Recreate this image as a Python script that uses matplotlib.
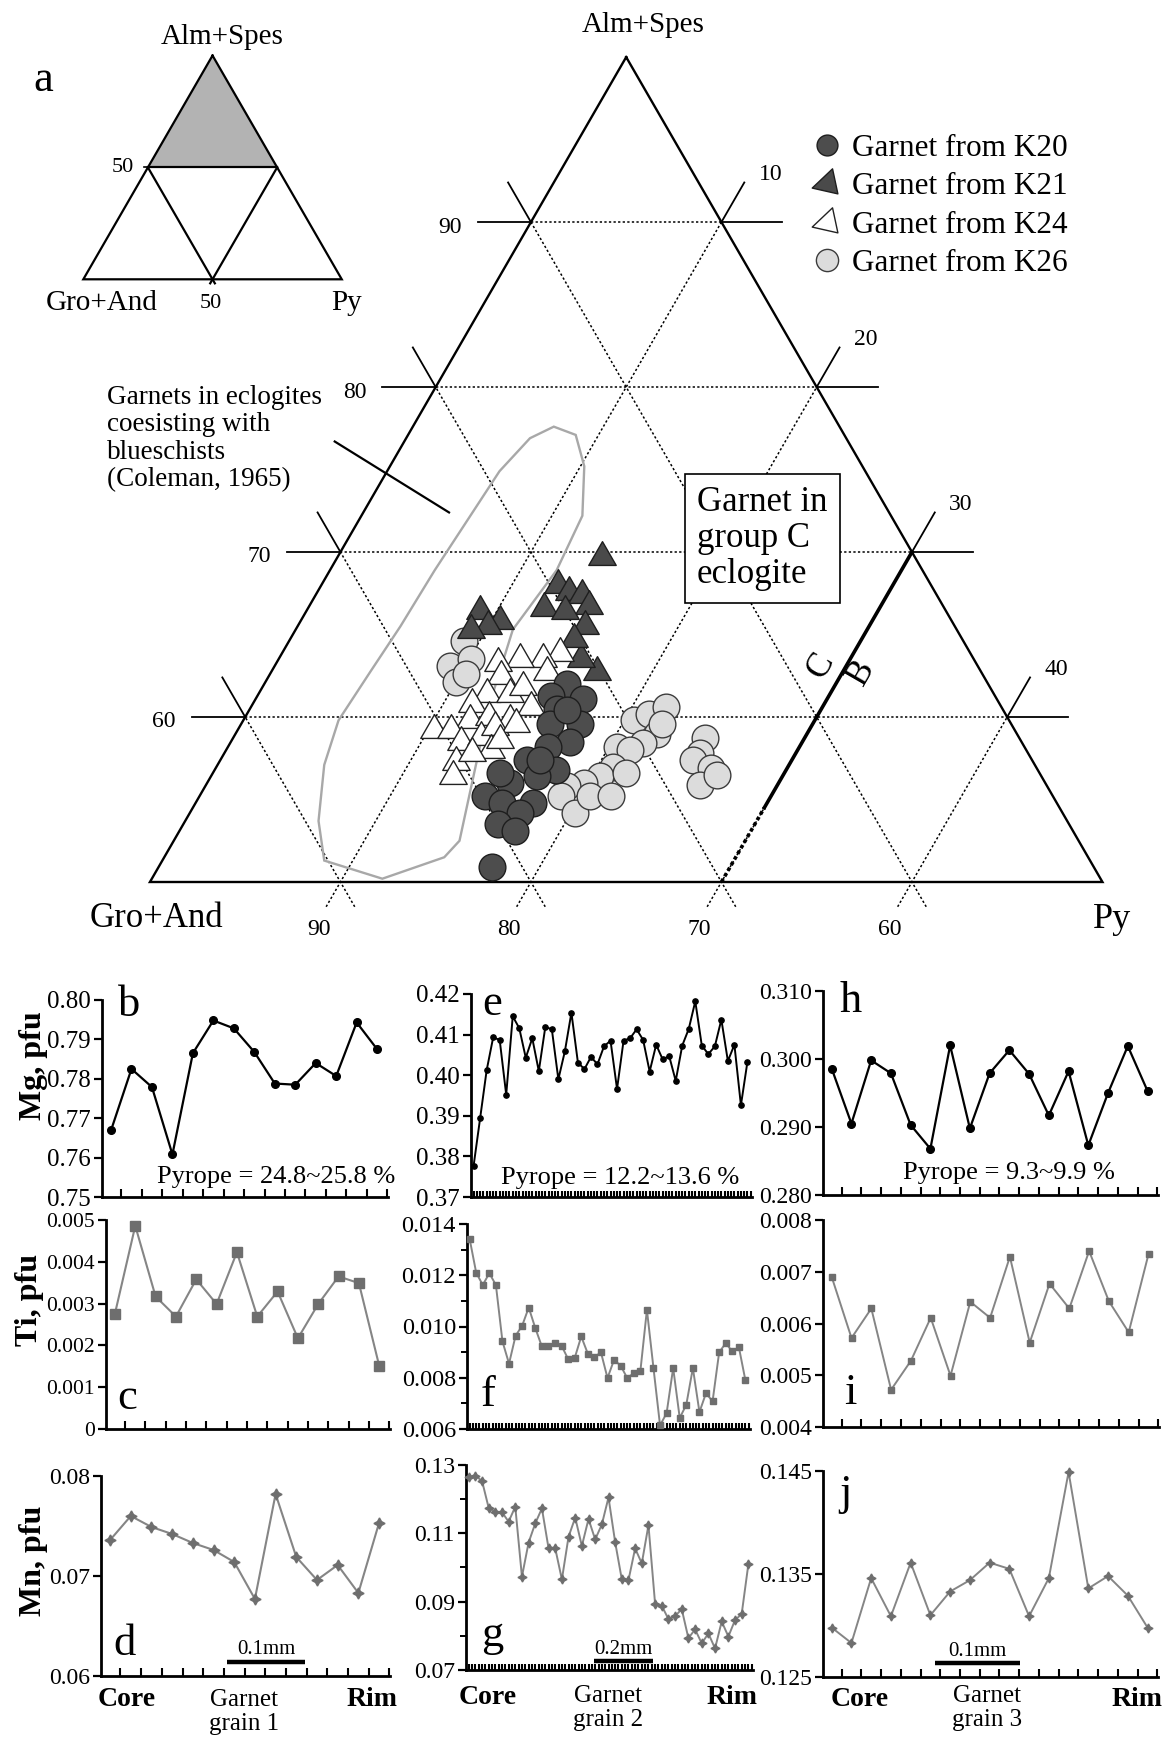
import numpy as np
import matplotlib.pyplot as plt
from matplotlib.lines import Line2D
from matplotlib.path import Path
from matplotlib.ticker import FixedLocator, FuncFormatter

plt.rcParams['font.family'] = ['Liberation Serif', 'DejaVu Serif']

W, H, DPI = 1173, 1739, 100
R3 = np.sqrt(3) / 2

# garnet end-member proportions, mol % (Alm+Spes, Py); Gro+And is the rest
k20_alm = [62.0, 61.3, 61.1, 60.5, 59.6, 59.6, 58.5, 58.2, 57.4, 56.8, 56.4,
           56.0, 55.2, 54.8, 54.8, 54.2, 53.5, 53.1, 50.9, 56.6, 60.4, 57.4]
k20_py = [15.9, 15.4, 17.2, 16.1, 17.8, 16.2, 17.8, 16.8, 16.1, 17.9, 17.1,
          15.9, 15.0, 16.1, 17.7, 17.3, 16.5, 17.6, 17.5, 15.1, 16.7, 16.8]

k21_alm = [69.7, 68.0, 67.6, 67.4, 66.7, 66.6, 66.4, 65.5, 66.4, 65.8, 65.5,
           65.3, 62.7, 63.5, 64.7]
k21_py = [13.9, 12.4, 13.2, 14.0, 14.7, 12.4, 13.6, 15.1, 9.1, 10.5, 10.0,
          9.2, 17.1, 15.9, 14.9]

k24_alm = [63.9, 63.5, 63.5, 63.3, 62.5, 61.4, 60.8, 61.4, 61.8, 60.6, 59.8,
           60.0, 59.8, 59.2, 59.2, 58.5, 58.8, 59.4, 59.6, 58.0, 57.3, 56.4,
           57.8, 58.6, 62.7]
k24_py = [14.6, 13.9, 12.7, 11.6, 12.2, 12.0, 11.5, 13.2, 13.7, 14.7, 11.9,
          12.8, 14.0, 10.3, 11.2, 12.1, 13.0, 13.4, 14.4, 13.9, 12.4, 12.7,
          13.0, 14.1, 14.5]

k26_alm = [64.6, 63.1, 63.5, 62.1, 62.6, 59.8, 60.2, 60.6, 59.0, 58.4, 58.2,
           58.0, 57.0, 56.4, 56.0, 55.8, 55.2, 54.2, 55.2, 55.2, 56.6, 59.6,
           58.7, 57.8, 57.4, 56.9, 55.9, 56.5]
k26_py = [9.2, 9.2, 10.1, 10.0, 10.3, 20.5, 21.1, 21.8, 22.1, 21.7, 20.4,
          21.2, 20.8, 20.4, 19.8, 19.0, 19.0, 20.2, 20.5, 21.6, 21.7, 22.1,
          24.8, 25.0, 24.8, 26.0, 25.9, 26.5]

# field of eclogites coexisting with blueschists (Coleman, 1965)
field_alm = [77.6, 77.1, 75.2, 72.2, 68.9, 65.3, 60.5, 52.5, 51.5, 50.2, 51.3,
             53.7, 57.1, 59.8, 62.8, 65.5, 68.9, 71.9, 74.9, 76.9, 77.6]
field_py = [7.4, 8.8, 10.2, 11.6, 11.9, 11.4, 12.5, 15.0, 14.7, 12.1, 8.5,
            7.0, 5.6, 5.0, 5.2, 5.4, 5.5, 5.7, 5.9, 6.5, 7.4]

grid_alm = [60, 70, 80, 90]
grid_py = [10, 20, 30, 40]
bc_py = 30  # group B / group C boundary

# core-to-rim profiles, cations pfu
mg_1 = [0.7669, 0.7825, 0.7779, 0.7608, 0.7865, 0.7948, 0.7928, 0.7868,
        0.7788, 0.7785, 0.7840, 0.7807, 0.7943, 0.7875]
mg_2 = [0.3777, 0.3894, 0.4012, 0.4093, 0.4087, 0.3952, 0.4145, 0.4116,
        0.4043, 0.4091, 0.4010, 0.4119, 0.4113, 0.3990, 0.4059, 0.4154,
        0.4031, 0.4015, 0.4045, 0.4027, 0.4071, 0.4085, 0.3966, 0.4085,
        0.4091, 0.4113, 0.4087, 0.4009, 0.4075, 0.4039, 0.4047, 0.3986,
        0.4073, 0.4114, 0.4182, 0.4073, 0.4052, 0.4071, 0.4137, 0.4035,
        0.4075, 0.3926, 0.4033]
mg_3 = [0.2986, 0.2905, 0.2998, 0.2979, 0.2903, 0.2868, 0.3020, 0.2898,
        0.2979, 0.3013, 0.2978, 0.2917, 0.2982, 0.2873, 0.2950, 0.3019,
        0.2953]

ti_1 = [0.00276, 0.00486, 0.00317, 0.00269, 0.00358, 0.00299, 0.00423,
        0.00269, 0.00329, 0.00217, 0.00299, 0.00365, 0.00349, 0.00151]
ti_2 = [0.01342, 0.01210, 0.01162, 0.01208, 0.01162, 0.00942, 0.00855,
        0.00964, 0.01003, 0.01074, 0.00994, 0.00922, 0.00922, 0.00935,
        0.00925, 0.00873, 0.00877, 0.00961, 0.00894, 0.00881, 0.00899,
        0.00799, 0.00870, 0.00847, 0.00799, 0.00818, 0.00825, 0.01065,
        0.00838, 0.00614, 0.00662, 0.00838, 0.00643, 0.00695, 0.00838,
        0.00666, 0.00740, 0.00708, 0.00899, 0.00935, 0.00903, 0.00920,
        0.00790]
ti_3 = [0.00690, 0.00572, 0.00629, 0.00472, 0.00528, 0.00611, 0.00499,
        0.00642, 0.00611, 0.00729, 0.00563, 0.00677, 0.00629, 0.00740,
        0.00643, 0.00583, 0.00734]

mn_1 = [0.0736, 0.0760, 0.0749, 0.0742, 0.0733, 0.0726, 0.0714, 0.0677,
        0.0782, 0.0719, 0.0696, 0.0711, 0.0683, 0.0753]
mn_2 = [0.1264, 0.1268, 0.1254, 0.1175, 0.1163, 0.1162, 0.1134, 0.1178,
        0.0973, 0.1073, 0.1129, 0.1173, 0.1056, 0.1056, 0.0965, 0.1090,
        0.1146, 0.1063, 0.1142, 0.1082, 0.1126, 0.1205, 0.1074, 0.0965,
        0.0963, 0.1056, 0.1012, 0.1124, 0.0893, 0.0888, 0.0849, 0.0858,
        0.0878, 0.0793, 0.0819, 0.0778, 0.0807, 0.0763, 0.0842, 0.0798,
        0.0846, 0.0864, 0.1009]
mn_3 = [0.1298, 0.1283, 0.1346, 0.1309, 0.1361, 0.1310, 0.1333, 0.1344,
        0.1361, 0.1355, 0.1309, 0.1346, 0.1449, 0.1336, 0.1348, 0.1329,
        0.1298]


def tern(alm, py):
    alm = np.asarray(alm, dtype=float)
    py = np.asarray(py, dtype=float)
    return py + alm / 2, alm * R3


def fx(px):
    return px / W


def fy(py):
    return 1 - py / H


fig = plt.figure(figsize=(W / DPI, H / DPI), dpi=DPI)


def add_box(x0, y0, x1, y1):
    return fig.add_axes([fx(x0), fy(y1), (x1 - x0) / W, (y1 - y0) / H])


# ---- main ternary (upper half: Alm+Spes >= 50) ----
ax = add_box(0, 40, W, 960)
ax.set_xlim(17.129, 78.704)
ax.set_ylim(39.207, 87.5)
ax.axis('off')

ax.plot(*tern([100, 50, 50, 100], [0, 0, 50, 0]), color='k', lw=1.7,
        solid_joinstyle='miter', zorder=2)

dots = (0, (1.5, 1.5))
for a in grid_alm:
    ax.plot(*tern([a, a], [0, 100 - a]), color='k', lw=1.1, ls=dots, zorder=1)
    ax.plot(*tern([a, a], [-2.8, 0]), color='k', lw=1.3)
    ax.plot(*tern([a, a], [100 - a, 103.2 - a]), color='k', lw=1.3)
    ax.text(*tern(a - 0.3, -3.5), str(a), fontsize=17, ha='right', va='center')
for p in grid_py:
    # constant Py
    ax.plot(*tern([48.5, 100 - p], [p, p]), color='k', lw=1.1, ls=dots, zorder=1)
    ax.plot(*tern([100 - p, 102.4 - p], [p, p]), color='k', lw=1.3)
    ax.text(*tern(102.9 - p, p + 0.5), str(p), fontsize=17, ha='left', va='center')
    ax.text(*tern(47.1, p + 0.3), str(100 - p), fontsize=17, ha='center', va='center')
    # constant Gro+And
    g = p
    ax.plot(*tern([48.5, 100 - g], [51.5 - g, 0]), color='k', lw=1.1, ls=dots, zorder=1)
    ax.plot(*tern([100 - g, 102.4 - g], [0, -2.4]), color='k', lw=1.3)

ax.fill(*tern(field_alm, field_py), fc='none', ec='#a8a8a8', lw=1.7, zorder=2)
ax.plot(*tern([76.7, 72.4], [-3.65, 4.5]), color='k', lw=1.6)

ax.plot(*tern([54.5, 70], [bc_py, bc_py]), color='k', lw=2.6, zorder=2)
ax.plot(*tern([50, 54.5], [bc_py, bc_py]), color='k', lw=2.6, ls=(0, (1, 0.8)), zorder=2)
ax.text(*tern(63.1, 28.7), 'C', rotation=60, fontsize=25, ha='center', va='center')
ax.text(*tern(62.7, 31.0), 'B', rotation=60, fontsize=25, ha='center', va='center')

tri = Path([(0, 0.577), (-0.5, -0.289), (0.5, -0.289), (0, 0.577)], closed=True)
ax.scatter(*tern(k26_alm, k26_py), s=370, marker='o', fc='#dcdcdc',
           ec='#3c3c3c', lw=1.0, zorder=3)
ax.scatter(*tern(k21_alm, k21_py), s=520, marker=tri, fc='#4a4a4a',
           ec='#1e1e1e', lw=1.0, zorder=4)
ax.scatter(*tern(k24_alm, k24_py), s=520, marker=tri, fc='white',
           ec='#222222', lw=1.0, zorder=5)
ax.scatter(*tern(k20_alm, k20_py), s=370, marker='o', fc='#4d4d4d',
           ec='#1e1e1e', lw=1.0, zorder=6)

leg_tri = Path([(-1, -0.3), (0.33, 0.96), (0.68, -0.68), (-1, -0.3)], closed=True)
handles = [
    Line2D([], [], ls='none', marker='o', ms=15, mfc='#4d4d4d', mec='#1e1e1e'),
    Line2D([], [], ls='none', marker=leg_tri, ms=22, mfc='#4a4a4a', mec='#1e1e1e'),
    Line2D([], [], ls='none', marker=leg_tri, ms=22, mfc='white', mec='#222222'),
    Line2D([], [], ls='none', marker='o', ms=16, mfc='#dcdcdc', mec='#3c3c3c'),
]
labels = ['Garnet from K20', 'Garnet from K21', 'Garnet from K24', 'Garnet from K26']
ax.legend(handles, labels, loc='upper left', bbox_to_anchor=(fx(811), fy(134)),
          bbox_transform=fig.transFigure, frameon=False, fontsize=22.5,
          handlelength=1.0, handletextpad=0.3, labelspacing=0.3,
          borderpad=0, borderaxespad=0)

fig.text(fx(643), fy(25), 'Alm+Spes', fontsize=21, ha='center', va='center')
fig.text(fx(156), fy(918), 'Gro+And', fontsize=25, ha='center', va='center')
fig.text(fx(1112), fy(920), 'Py', fontsize=26, ha='center', va='center')
fig.text(fx(107), fy(385), 'Garnets in eclogites\ncoesisting with\nblueschists\n(Coleman, 1965)',
         fontsize=19.5, ha='left', va='top', linespacing=1.13)
fig.text(fx(697), fy(486), 'Garnet in\ngroup C\neclogite', fontsize=25, ha='left',
         va='top', linespacing=1.12,
         bbox=dict(boxstyle='square,pad=0.35', fc='white', ec='k', lw=1.2))

# ---- inset: full ternary with the plotted field shaded ----
ai = add_box(60, 20, 380, 320)
ai.set_xlim(-9.02, 114.8)
ai.set_ylim(-15.75, 100.35)
ai.axis('off')
ai.fill(*tern([100, 50, 50], [0, 0, 50]), color='#b3b3b3', lw=0)
ai.plot(*tern([100, 0, 0, 100], [0, 0, 100, 0]), color='k', lw=1.6,
        solid_joinstyle='miter')
ai.plot(*tern([50, 50], [0, 50]), color='k', lw=1.6)
ai.plot(*tern([50, -1.8], [0, 51.8]), color='k', lw=1.6)
ai.plot(*tern([50, -1.8], [50, 50]), color='k', lw=1.6)
ai.plot(*tern([50, 50], [-1.6, 0]), color='k', lw=1.2)
fig.text(fx(222), fy(37), 'Alm+Spes', fontsize=21, ha='center', va='center')
fig.text(fx(102), fy(303), 'Gro+And', fontsize=21, ha='center', va='center')
fig.text(fx(347), fy(303), 'Py', fontsize=21, ha='center', va='center')
fig.text(fx(123), fy(167), '50', fontsize=16, ha='center', va='center')
fig.text(fx(211), fy(304), '50', fontsize=16, ha='center', va='center')
fig.text(fx(43), fy(80), 'a', fontsize=32, ha='center', va='center')


# ---- profiles ----
def f2(v, pos):
    return f'{v:.2f}'


def f3(v, pos):
    return f'{v:.3f}'


def f3z(v, pos):
    return '0' if abs(v) < 1e-12 else f'{v:.3f}'


def profile(box, y, ylim, major, minor, fmt, style, letter, lpos, dense=False,
            labelsize=18):
    a = add_box(*box)
    n = len(y)
    a.plot(np.arange(n), y, clip_on=False, zorder=3, **style)
    if dense:
        a.set_xlim(-0.4, n - 0.3)
        a.set_xticks(np.arange(0, n - 0.2, 0.5))
    else:
        a.set_xlim(-0.44, n - 0.47)
        a.set_xticks(np.arange(0.5, n, 1.0))
    a.set_ylim(*ylim)
    a.yaxis.set_major_locator(FixedLocator(major))
    if minor is not None:
        a.yaxis.set_minor_locator(FixedLocator(minor))
    a.yaxis.set_major_formatter(FuncFormatter(fmt))
    for s in ('top', 'right'):
        a.spines[s].set_visible(False)
    for s in ('left', 'bottom'):
        a.spines[s].set_linewidth(2.0)
    a.tick_params(axis='y', which='major', direction='out', length=6, width=1.6,
                  labelsize=labelsize, pad=2)
    a.tick_params(axis='y', which='minor', direction='out', length=4, width=1.4)
    a.tick_params(axis='x', direction='in', length=4 if dense else 6, width=1.5,
                  labelbottom=False)
    a.patch.set_alpha(0)
    fig.text(fx(lpos[0]), fy(lpos[1]), letter, fontsize=32, ha='center', va='center')
    return a


mg = dict(color='k', lw=1.6, marker='o', ms=5.5, mfc='k', mec='k')
mg_d = dict(color='k', lw=1.4, marker='o', ms=3.8, mfc='k', mec='k')
ti = dict(color='#858585', lw=1.5, marker='s', ms=7, mfc='#6e6e6e', mec='#6e6e6e')
ti_d = dict(color='#858585', lw=1.4, marker='s', ms=4.2, mfc='#6e6e6e', mec='#6e6e6e')
mn = dict(color='#858585', lw=1.5, marker=(4, 1, 0), ms=8, mfc='#6e6e6e', mec='#6e6e6e')
mn_d = dict(color='#858585', lw=1.4, marker=(4, 1, 0), ms=6.5, mfc='#6e6e6e', mec='#6e6e6e')

profile((102, 1000, 388, 1197), mg_1, (0.75, 0.80), np.arange(0.75, 0.8001, 0.01),
        None, f2, mg, 'b', (129, 1005))
profile((471, 994, 752, 1197), mg_2, (0.37, 0.42), np.arange(0.37, 0.4201, 0.01),
        None, f2, mg_d, 'e', (492, 1004), dense=True)
profile((823, 991, 1158, 1195), mg_3, (0.28, 0.31), np.arange(0.28, 0.3101, 0.01),
        None, f3, mg, 'h', (851, 1001), labelsize=17)

profile((106, 1220, 390, 1429), ti_1, (0, 0.005), np.arange(0, 0.00501, 0.001),
        None, f3z, ti, 'c', (127, 1398), labelsize=15.5)
profile((467, 1224, 750, 1429), ti_2, (0.006, 0.014), np.arange(0.006, 0.01401, 0.002),
        np.arange(0.007, 0.0135, 0.002), f3, ti_d, 'f', (488, 1395), dense=True,
        labelsize=17.5)
profile((823, 1220, 1159, 1427), ti_3, (0.004, 0.008), np.arange(0.004, 0.00801, 0.001),
        None, f3, ti_d, 'i', (850, 1393), labelsize=17)

pd_ = profile((101, 1476, 390, 1676), mn_1, (0.06, 0.08), [0.06, 0.07, 0.08],
              None, f2, mn, 'd', (125, 1644), labelsize=17)
pg_ = profile((466, 1465, 753, 1670), mn_2, (0.07, 0.13), np.arange(0.07, 0.1301, 0.02),
              np.arange(0.08, 0.125, 0.02), f2, mn_d, 'g', (492, 1635), dense=True,
              labelsize=17)
pj_ = profile((823, 1471, 1158, 1677), mn_3, (0.125, 0.145), [0.125, 0.135, 0.145],
              None, f3, mn_d, 'j', (845, 1494), labelsize=17)

# scale bars
for a, (x0, x1, yb, yt), lab in ((pd_, (0.436, 0.706, 0.072, 0.13), '0.1mm'),
                                  (pg_, (0.446, 0.652, 0.042, 0.10), '0.2mm'),
                                  (pj_, (0.335, 0.587, 0.068, 0.125), '0.1mm')):
    a.plot([x0, x1], [yb, yb], transform=a.transAxes, color='k', lw=3.2,
           solid_capstyle='butt', clip_on=False)
    a.text((x0 + x1) / 2, yt, lab, transform=a.transAxes, fontsize=15,
           ha='center', va='center')

for xc, xg, xr, yc, yg, n in ((127, 244, 372, 1700, 1712, 1),
                              (488, 608, 732, 1697, 1708, 2),
                              (860, 987, 1137, 1700, 1708, 3)):
    fig.text(fx(xc), fy(yc), 'Core', fontsize=20, fontweight='bold', ha='center', va='center')
    fig.text(fx(xr), fy(yc), 'Rim', fontsize=20, fontweight='bold', ha='center', va='center')
    fig.text(fx(xg), fy(yg), f'Garnet\ngrain {n}', fontsize=18, ha='center', va='center',
             linespacing=1.1)

fig.text(fx(276), fy(1177), 'Pyrope = 24.8~25.8 %', fontsize=19, ha='center', va='center')
fig.text(fx(620), fy(1178), 'Pyrope = 12.2~13.6 %', fontsize=19, ha='center', va='center')
fig.text(fx(1009), fy(1173), 'Pyrope = 9.3~9.9 %', fontsize=19, ha='center', va='center')

fig.text(fx(33), fy(1066), 'Mg, pfu', rotation=90, fontsize=23, fontweight='bold',
         ha='center', va='center')
fig.text(fx(29), fy(1300), 'Ti, pfu', rotation=90, fontsize=23, fontweight='bold',
         ha='center', va='center')
fig.text(fx(34), fy(1561), 'Mn, pfu', rotation=90, fontsize=23, fontweight='bold',
         ha='center', va='center')

fig.savefig('out.png', dpi=DPI, facecolor='white')
